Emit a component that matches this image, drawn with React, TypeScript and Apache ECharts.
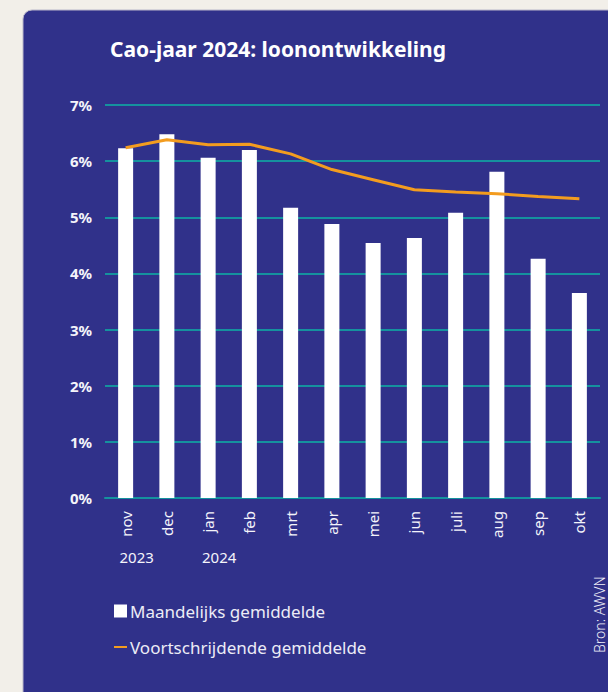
import React, { useEffect, useRef } from "react";
import * as echarts from "echarts";

const categories = ["nov", "dec", "jan", "feb", "mrt", "apr", "mei", "jun", "juli", "aug", "sep", "okt"];
const yearLabels = ["2023", "", "2024", "", "", "", "", "", "", "", "", ""];
const monthly = [6.23, 6.48, 6.06, 6.2, 5.17, 4.88, 4.54, 4.63, 5.08, 5.81, 4.26, 3.65];
const rolling = [6.24, 6.38, 6.29, 6.3, 6.13, 5.85, 5.67, 5.49, 5.45, 5.42, 5.37, 5.33];
const titleText = "Cao-jaar 2024: loonontwikkeling";
const seriesNames = ["Maandelijks gemiddelde", "Voortschrijdende gemiddelde"];
const sourceText = "Bron: AWVN";

const PANEL = "#30318a";
const GRID = "#15929e";
const ORANGE = "#f39c1f";
const FONT = "'Noto Sans', sans-serif";

export default function App() {
  const ref = useRef<HTMLDivElement>(null);
  useEffect(() => {
    if (!ref.current) return;
    const chart = echarts.init(ref.current, undefined, { renderer: "svg" });
    chart.setOption({
      animation: false,
      backgroundColor: "#f2efe9",
      textStyle: { fontFamily: FONT },
      graphic: [
        {
          type: "rect",
          z: -10,
          silent: true,
          shape: { x: 23, y: 10, width: 620, height: 720, r: 9 },
          style: { fill: PANEL, stroke: "#b9b6c9", lineWidth: 1 },
        },
        {
          type: "text",
          x: 599,
          y: 653,
          rotation: Math.PI / 2,
          style: {
            text: sourceText,
            fill: "#f0f0f8",
            font: `300 14px ${FONT}`,
            textAlign: "left",
            textVerticalAlign: "middle",
          },
        },
      ],
      title: {
        text: titleText,
        left: 105,
        top: 33,
        textStyle: { color: "#ffffff", fontFamily: FONT, fontWeight: "bold", fontSize: 21 },
      },
      legend: {
        orient: "vertical",
        left: 108,
        top: 596,
        itemWidth: 13,
        itemHeight: 13,
        itemGap: 16,
        textStyle: { color: "#ececf6", fontFamily: FONT, fontSize: 17, lineHeight: 20, padding: [0, 0, 0, -2] },
        data: [
          { name: seriesNames[0], icon: "rect" },
          { name: seriesNames[1], itemStyle: { opacity: 0 } },
        ],
      },
      grid: { left: 105, right: 8, top: 105, bottom: 194 },
      xAxis: [
        {
          type: "category",
          data: categories,
          axisLine: { show: true, lineStyle: { color: GRID, width: 2 } },
          axisTick: { show: false },
          axisLabel: {
            rotate: 90,
            interval: 0,
            margin: 13,
            color: "#f4f4fa",
            fontFamily: FONT,
            fontSize: 15,
          },
        },
        {
          type: "category",
          data: categories,
          position: "bottom",
          axisLine: { show: false },
          axisTick: { show: false },
          axisLabel: {
            interval: 0,
            margin: 51,
            color: "#f4f4fa",
            fontFamily: FONT,
            fontSize: 15,
            padding: [0, 0, 0, 22],
            formatter: (_v: string, i: number) => yearLabels[i],
          },
        },
      ],
      yAxis: {
        type: "value",
        min: 0,
        max: 7,
        interval: 1,
        axisLine: { show: false },
        axisTick: { show: false },
        splitLine: { lineStyle: { color: GRID, width: 2 } },
        axisLabel: {
          margin: 13,
          color: "#f4f4fa",
          fontFamily: FONT,
          fontWeight: "bold",
          fontSize: 15,
          formatter: "{value}%",
        },
      },
      series: [
        {
          name: seriesNames[0],
          type: "bar",
          data: monthly,
          barWidth: 15,
          itemStyle: { color: "#ffffff" },
        },
        {
          name: seriesNames[1],
          type: "line",
          data: rolling,
          symbol: "none",
          showSymbol: false,
          lineStyle: { color: ORANGE, width: 3 },
          itemStyle: { color: ORANGE },
          z: 5,
        },
      ],
    });
    return () => chart.dispose();
  }, []);
  return (
    <div
      ref={ref}
      style={{ position: "fixed", left: 0, top: 0, width: 608, height: 692 }}
    />
  );
}
